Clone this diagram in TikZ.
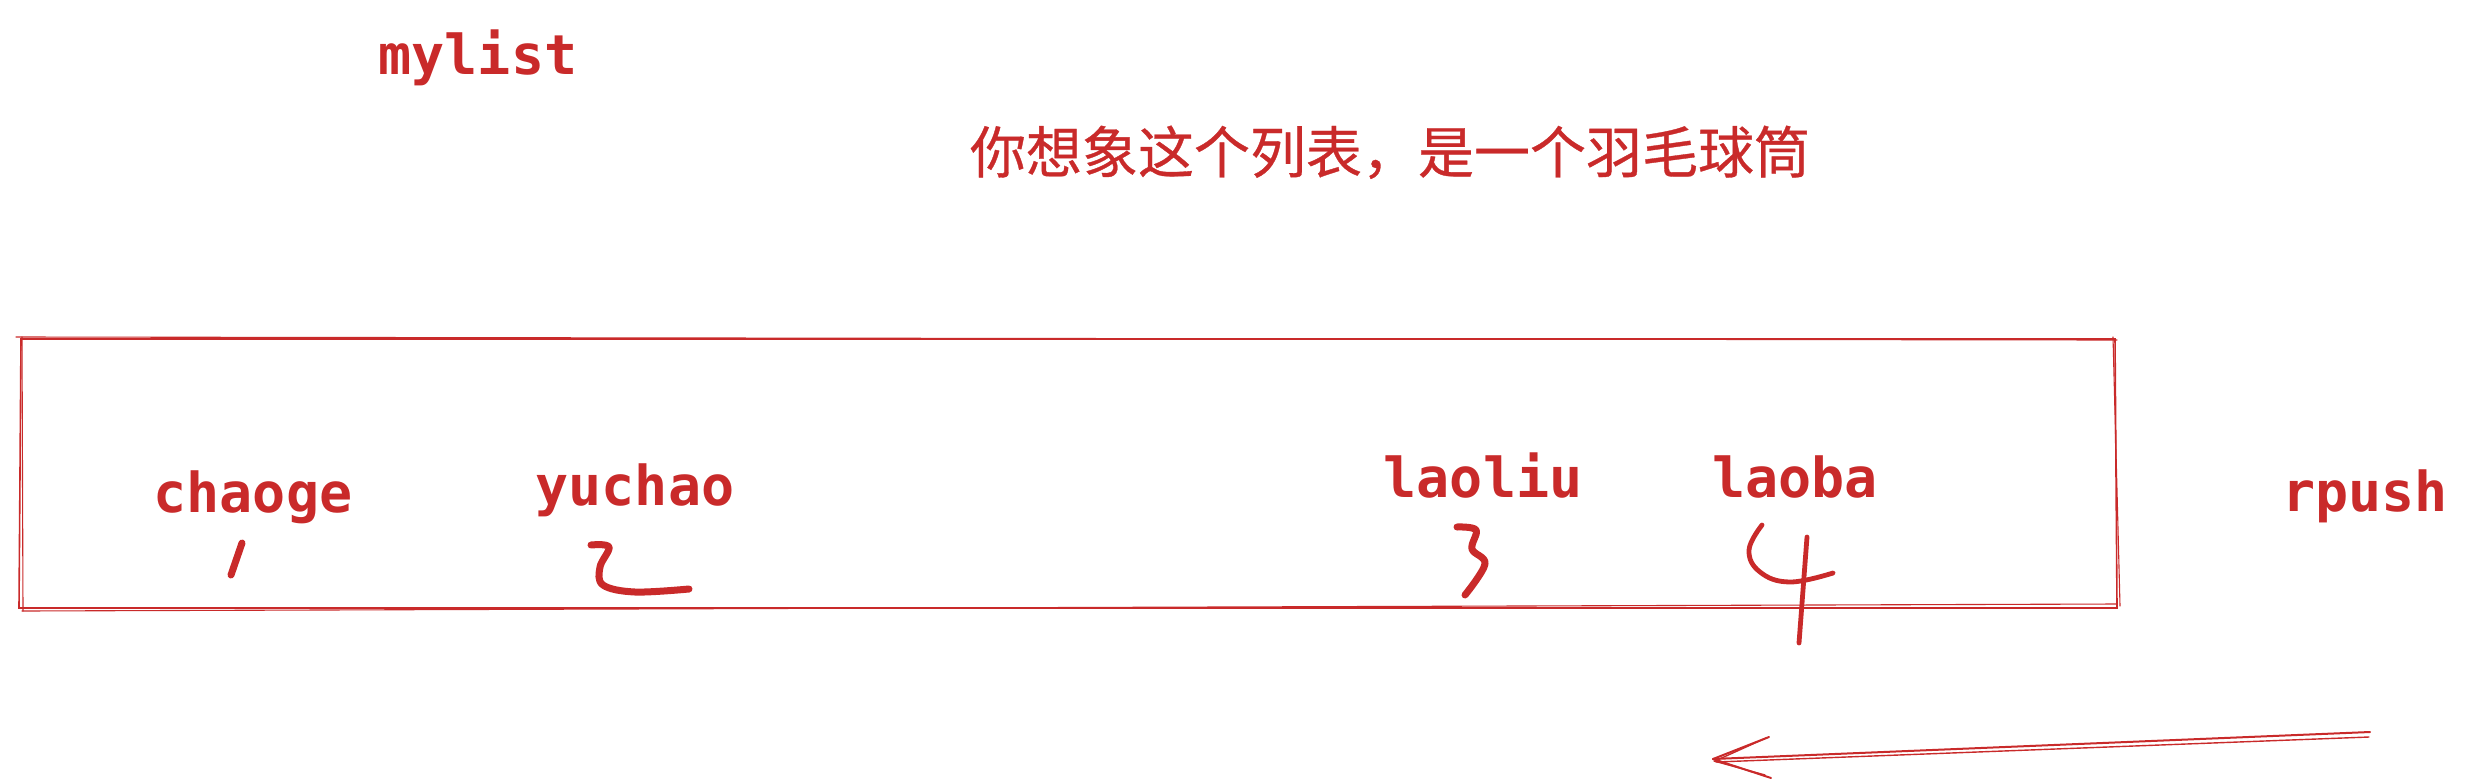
\documentclass[tikz,border=0pt]{standalone}
\usepackage{fontspec}
\newfontfamily\lbl{DejaVu Sans Mono}
\newfontfamily\cjk{Noto Sans CJK SC}[FakeBold=0.6]
\definecolor{exred}{RGB}{201,42,42}
\begin{document}
\begin{tikzpicture}[x=1pt,y=-1pt,
  every node/.style={text=exred,inner sep=0pt,outer sep=0pt},
  code/.style={font=\lbl\bfseries\fontsize{55}{60}\selectfont,anchor=base},
  han/.style={font=\cjk\fontsize{56}{62}\selectfont,anchor=base},
  edge/.style={draw=exred,line width=1.6pt,line cap=round},
  pen/.style={draw=exred,line width=7pt,line cap=round,line join=round},
  thinpen/.style={draw=exred,line width=4.8pt,line cap=round,line join=round},
  arrowline/.style={draw=exred,line width=2pt,line cap=round}]
\useasboundingbox (0,0) rectangle (2469,780);

% texts
\node[code] (mylist) at (478,74) {mylist};
\node[han] (note) at (1390,173) {你想象这个列表，是一个羽毛球筒};
\node[code] (chaoge) at (253,512) {chaoge};
\node[code] (yuchao) at (635,505) {yuchao};
\node[code] (laoliu) at (1483,497) {laoliu};
\node[code] (laoba) at (1795,497) {laoba};
\node[code] (rpush) at (2365,511) {rpush};

% list box (sketchy double stroke)
\coordinate (tl) at (21,339);
\coordinate (tr) at (2115,339);
\coordinate (br) at (2117,608);
\coordinate (bl) at (19,608);
\draw[edge] (tl) -- (tr) -- (br) -- (bl) -- cycle;
\draw[edge,line width=1.1pt] (16,337) -- (2117,340);
\draw[edge,line width=1.1pt] (2113,337) -- (2120,606);
\draw[edge,line width=1.1pt] (2117,604) -- (22,611);
\draw[edge,line width=1.1pt] (23,611) -- (22,337);

% hand-written indices
\draw[pen] (242,543) -- (231,575);
\draw[pen] plot[smooth,tension=0.6] coordinates {(591,545) (609,547) (600,567) (603,585) (635,592) (689,589)};
\draw[pen] plot[smooth,tension=0.6] coordinates {(1457,527) (1476,530) (1472,549) (1485,564) (1465,595)};
\draw[thinpen] plot[smooth,tension=0.7] coordinates {(1762,525) (1749,550) (1760,572) (1790,582) (1833,573)};
\draw[thinpen] (1807,537) -- (1799,643);

% rpush arrow (sketchy)
\coordinate (astart) at (2370,732);
\coordinate (atip) at (1713,759);
\draw[arrowline] (astart) -- (atip);
\draw[arrowline,line width=1.4pt] (2369,737) -- (1716,762);
\draw[arrowline] (atip) -- (1769,737);
\draw[arrowline,line width=1.4pt] (1715,761) -- (1766,738);
\draw[arrowline] (atip) -- (1771,778);
\draw[arrowline,line width=1.4pt] (1714,761) -- (1765,775);
\end{tikzpicture}
\end{document}
